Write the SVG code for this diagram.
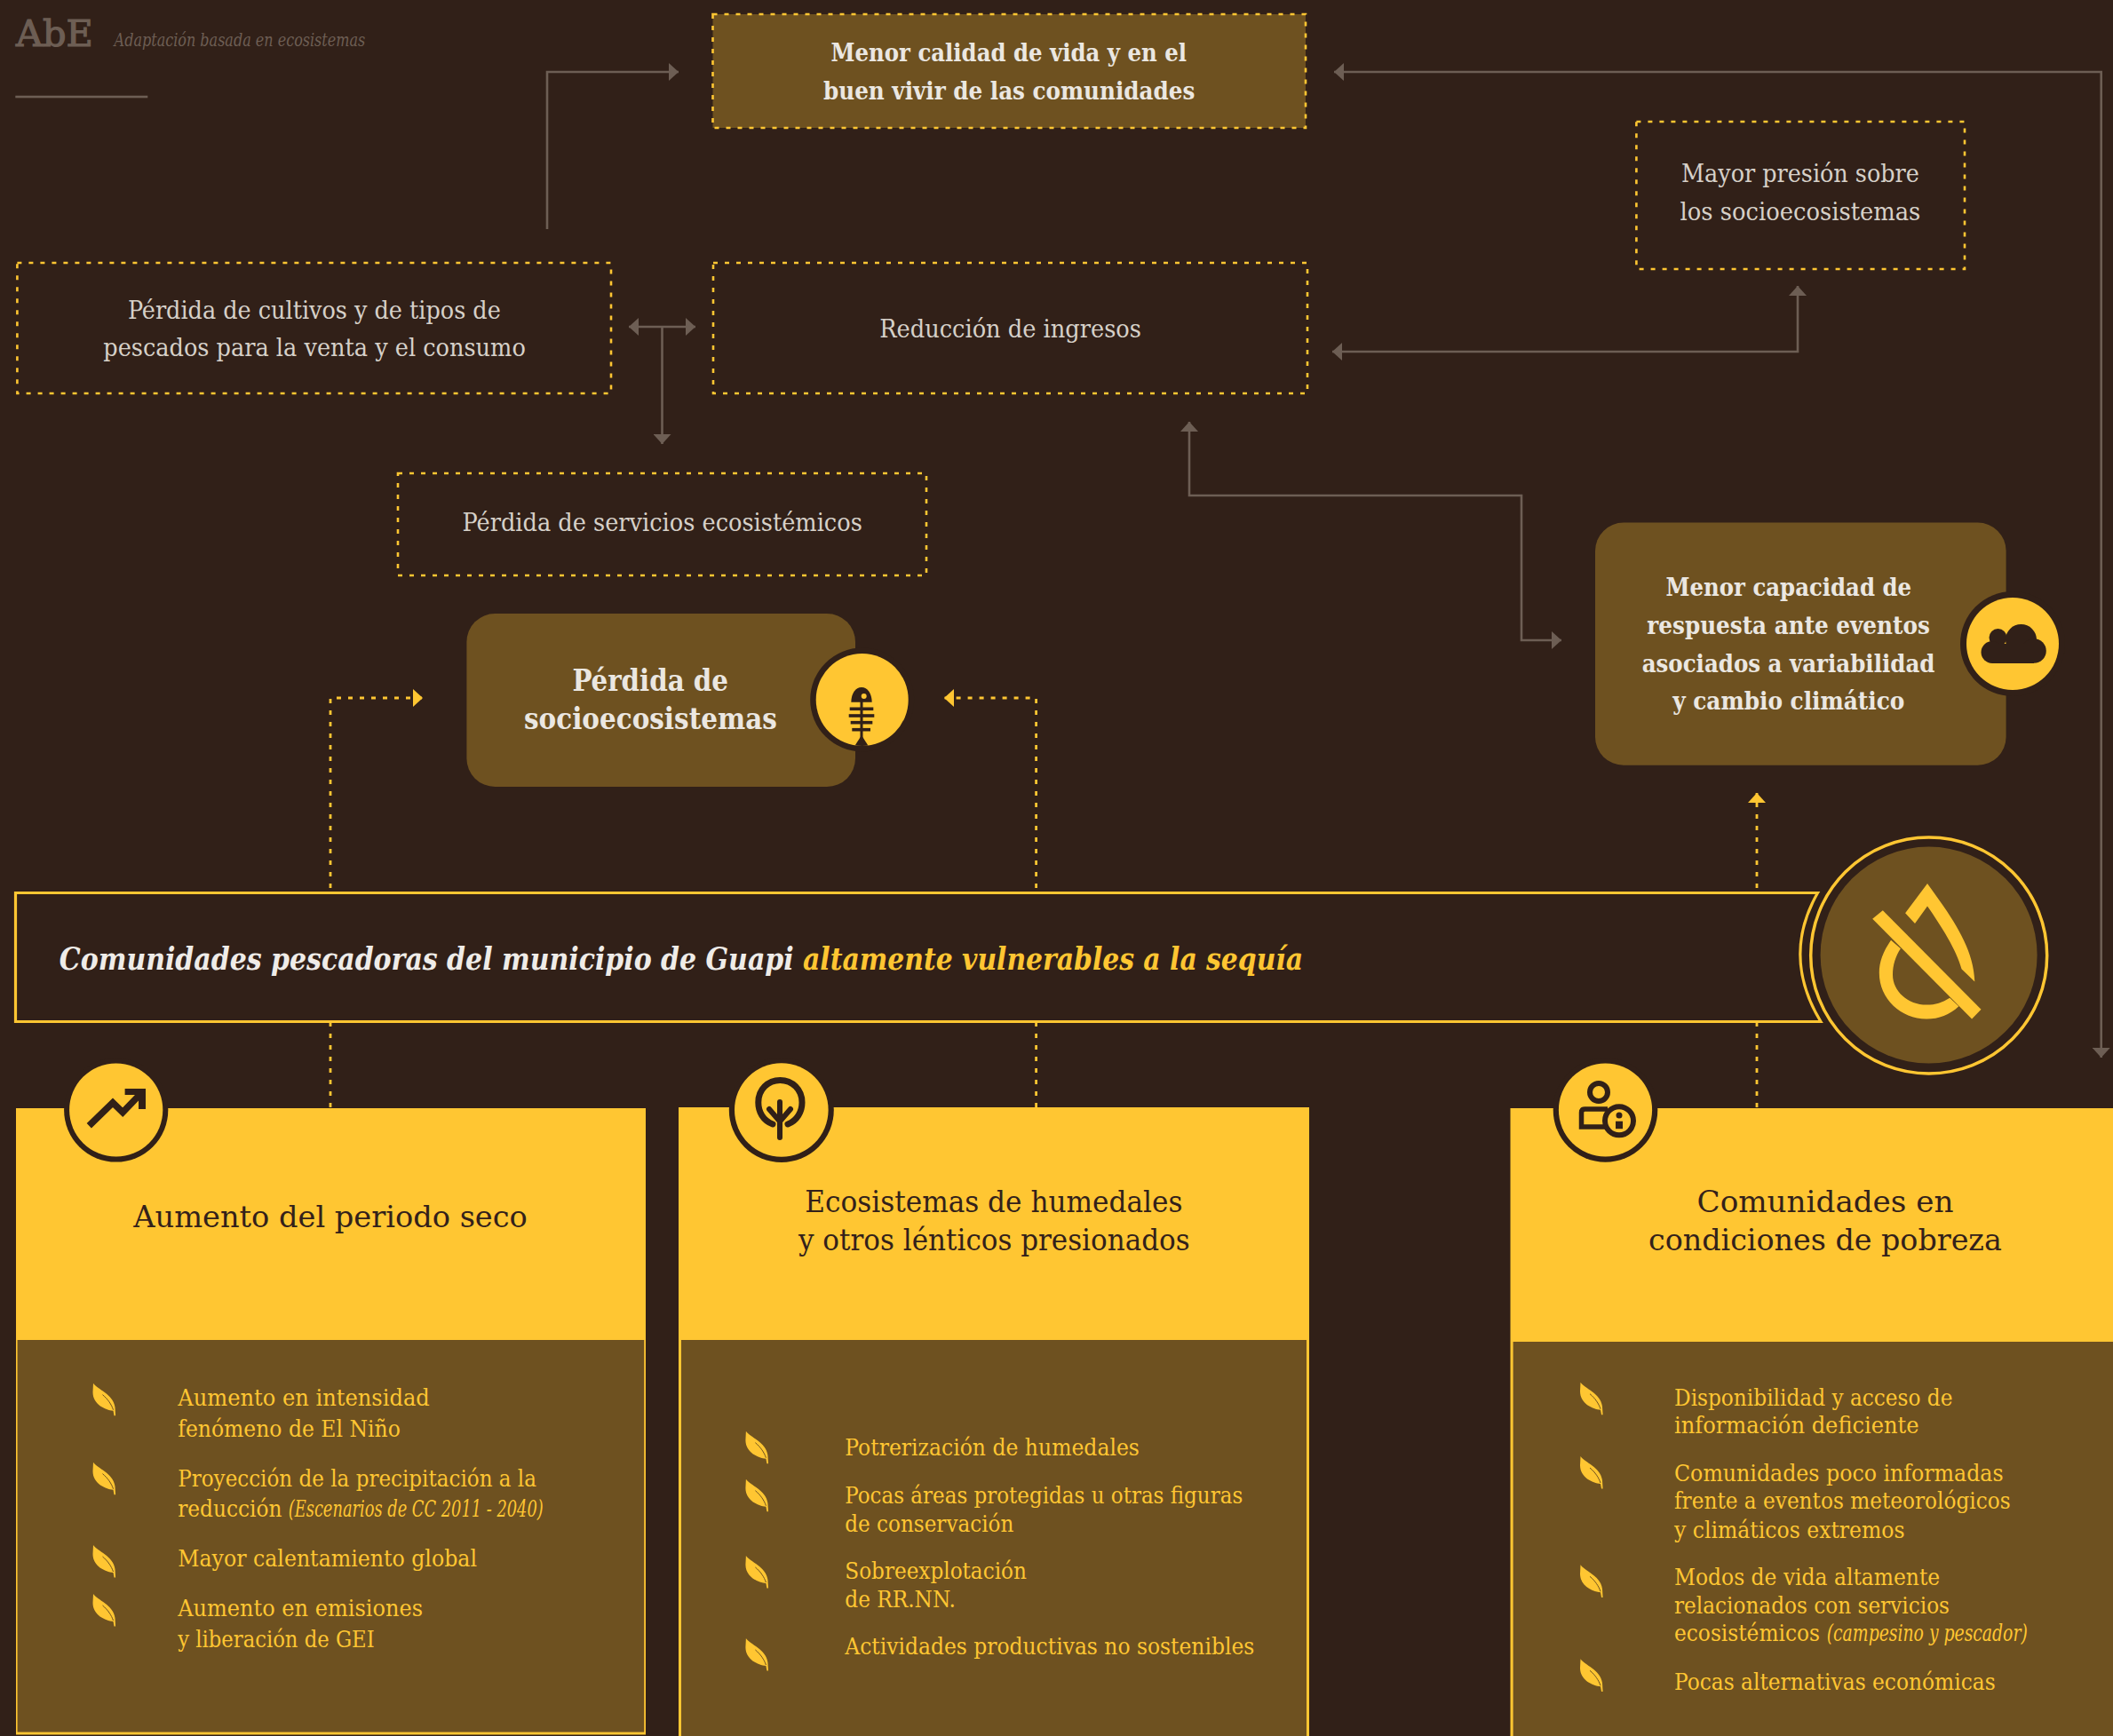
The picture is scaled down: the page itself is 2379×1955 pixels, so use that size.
<svg xmlns="http://www.w3.org/2000/svg" xmlns:xlink="http://www.w3.org/1999/xlink" width="2379" height="1955" viewBox="0 0 2379 1955">
<style>
text{font-family:"DejaVu Serif Condensed","DejaVu Serif","Liberation Serif",serif;font-stretch:condensed}
.n{font-size:28px;fill:#d6d0c8}
.b{font-size:28px;font-weight:700;fill:#ebe7e1}
.bl{font-size:34px;font-weight:700;fill:#ebe7e1}
.t{font-size:34px;fill:#33211a}
.l{font-size:26px;fill:#ffc632}
.i{font-style:italic}
.g{fill:#6d5e54}
.box{fill:none;stroke:#ffc632;stroke-width:2.6;stroke-dasharray:5 8}
.gl{fill:none;stroke:#6d5e54;stroke-width:2.6}
.yl{fill:none;stroke:#ffc632;stroke-width:2.8;stroke-dasharray:5 8}
.bg{fill:#312018}
.y{fill:#ffc632}
.br{fill:#6e5120}
.ic{fill:none;stroke:#312018}
</style>
<defs>
<marker id="ag" markerUnits="userSpaceOnUse" markerWidth="11" markerHeight="20" refX="11" refY="10" orient="auto-start-reverse"><path d="M0 0L11 10L0 20Z" fill="#6d5e54"/></marker>
<marker id="ay" markerUnits="userSpaceOnUse" markerWidth="11" markerHeight="20" refX="11" refY="10" orient="auto"><path d="M0 0L11 10L0 20Z" fill="#ffc632"/></marker>
<g id="leaf"><path d="M.5 0C5 7 23 12 25 27L25.6 36.6L24 36.6L23 31C14 30 0 24 0 10Z" fill="#ffc632"/><path d="M11 13C17 18 21 24 23 30" fill="none" stroke="#6e5120" stroke-width="1"/></g>
<clipPath id="fc"><circle cx="970.7" cy="788" r="52"/></clipPath>
</defs>
<rect width="2379" height="1955" class="bg"/>

<g id="header">
<text x="18" y="51.7" font-size="41" class="g" stroke="#6d5e54" stroke-width="1.2" textLength="86.6" lengthAdjust="spacingAndGlyphs">AbE</text>
<text x="128.6" y="51.7" font-size="21" class="g i" textLength="282.6" lengthAdjust="spacingAndGlyphs">Adaptación basada en ecosistemas</text>
<rect x="17.3" y="107.7" width="149" height="2.6" class="g"/>
</g>

<g id="connectors">
<path class="gl" d="M616 258V81H764" marker-end="url(#ag)"/>
<path class="gl" d="M1502 81H2365.7V1191" marker-start="url(#ag)" marker-end="url(#ag)"/>
<path class="gl" d="M708 368H783" marker-start="url(#ag)" marker-end="url(#ag)"/>
<path class="gl" d="M745.5 368V500" marker-end="url(#ag)"/>
<path class="gl" d="M1500 396H2024V322" marker-start="url(#ag)" marker-end="url(#ag)"/>
<path class="gl" d="M1339 475V558H1713V721H1758" marker-start="url(#ag)" marker-end="url(#ag)"/>
<path class="yl" d="M372 1247V786H476" marker-end="url(#ay)"/>
<path class="yl" d="M1166.6 1247V786H1063" marker-end="url(#ay)"/>
<path class="yl" d="M1978 1247V893" marker-end="url(#ay)"/>
</g>

<g id="node-calidad">
<rect x="802.5" y="16" width="667.5" height="128" class="br"/>
<rect x="802.5" y="16" width="667.5" height="128" class="box"/>
<text x="935.6" y="69" class="b" textLength="400.4" lengthAdjust="spacingAndGlyphs">Menor calidad de vida y en el</text>
<text x="927" y="111.7" class="b" textLength="418.3" lengthAdjust="spacingAndGlyphs">buen vivir de las comunidades</text>
</g>
<g id="node-presion">
<rect x="1842.4" y="137" width="369.6" height="166" class="box"/>
<text x="1893" y="205" class="n" textLength="267.8" lengthAdjust="spacingAndGlyphs">Mayor presión sobre</text>
<text x="1891.6" y="247.7" class="n" textLength="270.7" lengthAdjust="spacingAndGlyphs">los socioecosistemas</text>
</g>
<g id="node-cultivos">
<rect x="19.4" y="296" width="668.6" height="147" class="box"/>
<text x="143.9" y="359" class="n" textLength="419.9" lengthAdjust="spacingAndGlyphs">Pérdida de cultivos y de tipos de</text>
<text x="116.3" y="401" class="n" textLength="475.5" lengthAdjust="spacingAndGlyphs">pescados para la venta y el consumo</text>
</g>
<g id="node-ingresos">
<rect x="803" y="296" width="669" height="147" class="box"/>
<text x="990.2" y="380" class="n" textLength="294.8" lengthAdjust="spacingAndGlyphs">Reducción de ingresos</text>
</g>
<g id="node-servicios">
<rect x="448" y="533" width="595" height="115" class="box"/>
<text x="520.5" y="597.7" class="n" textLength="450.3" lengthAdjust="spacingAndGlyphs">Pérdida de servicios ecosistémicos</text>
</g>
<g id="node-socioecosistemas">
<rect x="525.4" y="691" width="437.6" height="195" rx="32" class="br"/>
<circle cx="970.7" cy="788" r="58.5" class="bg"/>
<text x="644.4" y="778.3" class="bl" textLength="175.6" lengthAdjust="spacingAndGlyphs">Pérdida de</text>
<text x="590" y="821" class="bl" textLength="284.8" lengthAdjust="spacingAndGlyphs">socioecosistemas</text>
<circle cx="970.7" cy="788" r="52" class="y"/>
<g clip-path="url(#fc)" fill="#312018">
<path d="M958.3 790.7C958.5 781 963 774 970 774S981.5 781 981.7 790.7Z"/>
<rect x="968.5" y="790" width="3" height="42"/>
<rect x="956.7" y="796.5" width="26.6" height="3.6"/>
<rect x="955.7" y="804.2" width="28.6" height="3.6"/>
<rect x="957.7" y="811.9" width="24.6" height="3.6"/>
<rect x="959.3" y="819.9" width="20.7" height="3.6"/>
<path d="M970 828L961.7 841H978.3Z"/>
</g>
<circle cx="972.7" cy="784" r="3" class="y"/>
</g>
<g id="node-capacidad">
<rect x="1796" y="588.6" width="462.6" height="273.2" rx="32" class="br"/>
<circle cx="2266" cy="725" r="59" class="bg"/>
<text x="1875.6" y="671.4" class="b" textLength="276.4" lengthAdjust="spacingAndGlyphs">Menor capacidad de</text>
<text x="1854.3" y="714" class="b" textLength="318.5" lengthAdjust="spacingAndGlyphs">respuesta ante eventos</text>
<text x="1848.7" y="757.3" class="b" textLength="329.7" lengthAdjust="spacingAndGlyphs">asociados a variabilidad</text>
<text x="1883.2" y="799" class="b" textLength="261.1" lengthAdjust="spacingAndGlyphs">y cambio climático</text>
<circle cx="2266" cy="725" r="52" class="y"/>
<g fill="#312018">
<circle cx="2249.5" cy="718" r="10"/><circle cx="2275.5" cy="720.5" r="17.5"/><circle cx="2243" cy="734.5" r="12.5"/><circle cx="2290" cy="733" r="13.8"/>
<path d="M2243 725H2290V747H2243Z"/>
</g>
</g>

<g id="node-comunidades">
<path d="M17.5 1005.5H2046.5Q2005.5 1077 2050 1150.5H17.5Z" class="bg" stroke="#ffc632" stroke-width="3.2"/>
<text x="66.8" y="1092" font-size="36" font-weight="700" font-style="italic" fill="#efece8" textLength="826.9" lengthAdjust="spacingAndGlyphs">Comunidades pescadoras del municipio de Guapi</text>
<text x="904" y="1092" font-size="36" font-weight="700" font-style="italic" fill="#ffc632" textLength="563" lengthAdjust="spacingAndGlyphs">altamente vulnerables a la sequía</text>
<circle cx="2171.7" cy="1076" r="133" class="bg" stroke="#ffc632" stroke-width="3.5"/>
<circle cx="2171.6" cy="1075.6" r="122" class="br"/>
<g class="y">
<path d="M2145.1 1028.3L2170 995C2195 1030 2222 1065 2223.3 1105.5L2208.5 1091.2C2203 1070 2185 1042 2170 1020.5L2156 1040Z"/>
<path d="M2108.2 1034.8L2119.8 1025.3L2230.5 1136.8L2220.1 1147.6Z"/>
<path d="M2129 1058.7C2120 1072 2115.8 1083 2115.8 1095.6C2115.8 1125 2140 1147.6 2169.2 1147.6C2183 1147.6 2195 1143 2205.3 1133.3L2195.2 1123.7C2187 1129 2179 1131.6 2169.2 1131.6C2148 1131.6 2131 1116 2131 1097.7C2131 1087 2134 1077 2139.9 1068.2Z"/>
</g>
</g>

<g id="card-seco">
<rect x="18" y="1248" width="709" height="705.5" class="y"/>
<rect x="19.6" y="1509" width="705.6" height="441.6" class="br"/>
<circle cx="130.7" cy="1250" r="58.6" class="bg"/>
<circle cx="130.7" cy="1250" r="52.6" class="y"/>
<path d="M100.3 1267.7L127 1241.7L138.2 1252.7L160 1230" class="ic" stroke-width="7.5"/>
<path d="M140.6 1226H164V1249H156V1233H140.6Z" fill="#312018"/>
<text x="150.3" y="1381.7" class="t" textLength="443.5" lengthAdjust="spacingAndGlyphs">Aumento del periodo seco</text>
<use xlink:href="#leaf" href="#leaf" x="104.5" y="1557.7"/>
<use xlink:href="#leaf" href="#leaf" x="104.5" y="1646.7"/>
<use xlink:href="#leaf" href="#leaf" x="104.5" y="1740"/>
<use xlink:href="#leaf" href="#leaf" x="104.5" y="1795"/>
<text x="200.2" y="1582.7" class="l" textLength="283.6" lengthAdjust="spacingAndGlyphs">Aumento en intensidad</text>
<text x="200.2" y="1617.7" class="l" textLength="250.6" lengthAdjust="spacingAndGlyphs">fenómeno de El Niño</text>
<text x="200.2" y="1674" class="l" textLength="403.8" lengthAdjust="spacingAndGlyphs">Proyección de la precipitación a la</text>
<text x="200.2" y="1708.3" class="l" textLength="117.3" lengthAdjust="spacingAndGlyphs">reducción</text>
<text x="324.8" y="1708.3" class="l i" textLength="286.9" lengthAdjust="spacingAndGlyphs">(Escenarios de CC 2011 - 2040)</text>
<text x="200.2" y="1764" class="l" textLength="336.8" lengthAdjust="spacingAndGlyphs">Mayor calentamiento global</text>
<text x="200.2" y="1820" class="l" textLength="275.8" lengthAdjust="spacingAndGlyphs">Aumento en emisiones</text>
<text x="200.2" y="1855" class="l" textLength="221.5" lengthAdjust="spacingAndGlyphs">y liberación de GEI</text>
</g>

<g id="card-humedales">
<rect x="764" y="1247" width="710" height="708" class="y"/>
<rect x="767" y="1509" width="704" height="446" class="br"/>
<circle cx="879.8" cy="1250" r="59" class="bg"/>
<circle cx="879.8" cy="1250" r="52.8" class="y"/>
<path d="M870 1266C859 1262 853.8 1252 853.8 1241.5C853.8 1227 864.5 1216.5 878.3 1216.5S903 1227 903 1241.5C903 1252 897.5 1262 887 1266" class="ic" stroke-width="7" stroke-linecap="round"/>
<path d="M878 1241V1281M866 1249L878 1263L890 1249" class="ic" stroke-width="6" stroke-linecap="round"/>
<text x="906.3" y="1365" class="t" textLength="425.1" lengthAdjust="spacingAndGlyphs">Ecosistemas de humedales</text>
<text x="899" y="1407.7" class="t" textLength="440.6" lengthAdjust="spacingAndGlyphs">y otros lénticos presionados</text>
<use xlink:href="#leaf" href="#leaf" x="839.4" y="1611.7"/>
<use xlink:href="#leaf" href="#leaf" x="839.4" y="1665.7"/>
<use xlink:href="#leaf" href="#leaf" x="839.4" y="1752"/>
<use xlink:href="#leaf" href="#leaf" x="839.4" y="1845"/>
<text x="951.3" y="1638.7" class="l" textLength="331.6" lengthAdjust="spacingAndGlyphs">Potrerización de humedales</text>
<text x="951.3" y="1692.7" class="l" textLength="447.9" lengthAdjust="spacingAndGlyphs">Pocas áreas protegidas u otras figuras</text>
<text x="951.3" y="1725" class="l" textLength="190.1" lengthAdjust="spacingAndGlyphs">de conservación</text>
<text x="951.3" y="1777.7" class="l" textLength="204.6" lengthAdjust="spacingAndGlyphs">Sobreexplotación</text>
<text x="951.3" y="1810" class="l" textLength="124.7" lengthAdjust="spacingAndGlyphs">de RR.NN.</text>
<text x="951.3" y="1862.7" class="l" textLength="461" lengthAdjust="spacingAndGlyphs">Actividades productivas no sostenibles</text>
</g>

<g id="card-pobreza">
<rect x="1700.5" y="1248" width="678.5" height="707" class="y"/>
<rect x="1703.6" y="1511" width="675.4" height="444" class="br"/>
<circle cx="1807.5" cy="1250" r="58.8" class="bg"/>
<circle cx="1807.5" cy="1250" r="52.6" class="y"/>
<circle cx="1800" cy="1230" r="10" class="ic" stroke-width="6"/>
<path d="M1810 1249H1784.5Q1780.5 1249 1780.5 1253V1269H1808" class="ic" stroke-width="5.5"/>
<circle cx="1823" cy="1262.3" r="16" class="y" stroke="#312018" stroke-width="6"/>
<circle cx="1823" cy="1256" r="3.5" fill="#312018"/>
<rect x="1819" y="1262.7" width="8" height="8.5" fill="#312018"/>
<text x="1910.5" y="1365" class="t" textLength="288.9" lengthAdjust="spacingAndGlyphs">Comunidades en</text>
<text x="1856" y="1407.7" class="t" textLength="397.8" lengthAdjust="spacingAndGlyphs">condiciones de pobreza</text>
<use xlink:href="#leaf" href="#leaf" x="1779" y="1556.7"/>
<use xlink:href="#leaf" href="#leaf" x="1779" y="1640"/>
<use xlink:href="#leaf" href="#leaf" x="1779" y="1762.3"/>
<use xlink:href="#leaf" href="#leaf" x="1779" y="1868.3"/>
<text x="1885" y="1582.7" class="l" textLength="313.5" lengthAdjust="spacingAndGlyphs">Disponibilidad y acceso de</text>
<text x="1885" y="1614.3" class="l" textLength="275.6" lengthAdjust="spacingAndGlyphs">información deficiente</text>
<text x="1885" y="1667.7" class="l" textLength="370.6" lengthAdjust="spacingAndGlyphs">Comunidades poco informadas</text>
<text x="1885" y="1699.3" class="l" textLength="378.6" lengthAdjust="spacingAndGlyphs">frente a eventos meteorológicos</text>
<text x="1885" y="1731.7" class="l" textLength="259.6" lengthAdjust="spacingAndGlyphs">y climáticos extremos</text>
<text x="1885" y="1785" class="l" textLength="299.2" lengthAdjust="spacingAndGlyphs">Modos de vida altamente</text>
<text x="1885" y="1816.7" class="l" textLength="310" lengthAdjust="spacingAndGlyphs">relacionados con servicios</text>
<text x="1885" y="1848.3" class="l" textLength="164" lengthAdjust="spacingAndGlyphs">ecosistémicos</text>
<text x="2056.7" y="1848.3" class="l i" textLength="226.1" lengthAdjust="spacingAndGlyphs">(campesino y pescador)</text>
<text x="1885" y="1902.7" class="l" textLength="361.6" lengthAdjust="spacingAndGlyphs">Pocas alternativas económicas</text>
</g>
</svg>
